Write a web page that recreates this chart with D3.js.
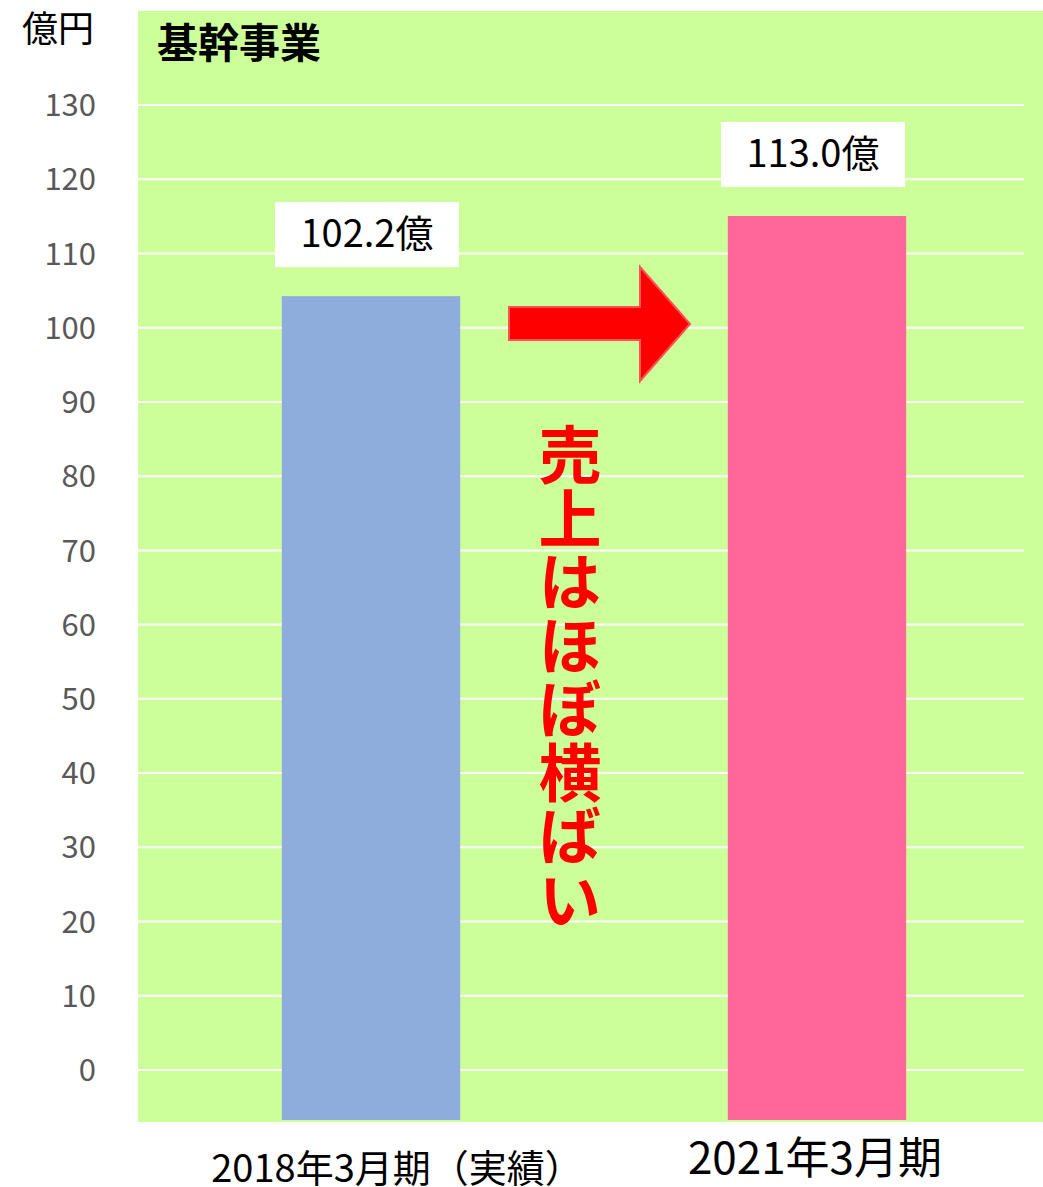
<!DOCTYPE html>
<html><head><meta charset="utf-8">
<script src="https://cdn.jsdelivr.net/npm/d3@7"></script>
<style>
html,body{margin:0;padding:0;background:#fff;}
svg{display:block;font-family:"Noto Sans CJK JP","Noto Sans",sans-serif;}
</style></head>
<body>
<svg id="chart" width="1043" height="1187"></svg>
<script>
const categories = ["2018年3月期（実績）", "2021年3月期"];
const values = [102.2, 113.0];
const valueLabels = ["102.2億", "113.0億"];
const barColors = ["#8EACDC", "#FF6699"];
const tickValues = [0,10,20,30,40,50,60,70,80,90,100,110,120,130];
const unitLabel = "億円";
const title = "基幹事業";
const annotation = "売上はほぼ横ばい";
const BAR_OFFSET = 2.05; // bars in the original sit slightly above the axis grid

const svg = d3.select("#chart");
const plot = {left:138, right:1043, top:11, bottom:1122};

svg.append("rect").attr("x",plot.left).attr("y",plot.top)
  .attr("width",plot.right-plot.left).attr("height",plot.bottom-plot.top)
  .attr("fill","#CCFF99");

const y = d3.scaleLinear().domain([0,130]).range([1070,105]);
const x = d3.scaleBand().domain(categories).range([148,1040]).paddingInner(0.6).paddingOuter(0.3);

// gridlines
svg.append("g").selectAll("line").data(tickValues).join("line")
  .attr("x1",plot.left).attr("x2",1024)
  .attr("y1",d=>y(d)).attr("y2",d=>y(d))
  .attr("stroke","#fff").attr("stroke-width",2);

// tick labels
svg.append("g").selectAll("text").data(tickValues).join("text")
  .attr("x",96).attr("y",d=>y(d)).attr("dy","0.36em")
  .attr("text-anchor","end").attr("fill","#595959")
  .attr("font-size",31).text(d=>d);

svg.append("text").attr("x",22).attr("y",42).attr("font-size",36).attr("fill","#000").text(unitLabel);
svg.append("text").attr("x",157).attr("y",58).attr("font-size",41).attr("font-weight","bold").attr("fill","#000").text(title);

// bars
const barBottom = 1120;
svg.append("g").selectAll("rect").data(values).join("rect")
  .attr("x",(d,i)=>x(categories[i])).attr("width",x.bandwidth())
  .attr("y",d=>y(d+BAR_OFFSET)).attr("height",d=>barBottom-y(d+BAR_OFFSET))
  .attr("fill",(d,i)=>barColors[i]);

// value label boxes
const boxW = 184, boxH = 65, gap = 29;
const lbl = svg.append("g").selectAll("g").data(values).join("g")
  .attr("transform",(d,i)=>`translate(${x(categories[i])+x.bandwidth()/2-4},${y(d+BAR_OFFSET)-gap-boxH})`);
lbl.append("rect").attr("x",-boxW/2).attr("y",0).attr("width",boxW).attr("height",boxH).attr("fill","#fff");
lbl.append("text").attr("x",0).attr("y",45).attr("text-anchor","middle").attr("font-size",38).attr("fill","#000")
  .text((d,i)=>valueLabels[i]);

// x labels
const xlabelSizes = [38, 44];
const xlabelY = [1182, 1174];
const xlabelShift = [26, -2];
svg.append("g").selectAll("text").data(categories).join("text")
  .attr("x",(d,i)=>x(d)+x.bandwidth()/2+xlabelShift[i]).attr("y",(d,i)=>xlabelY[i])
  .attr("text-anchor","middle").attr("font-size",(d,i)=>xlabelSizes[i]).attr("fill","#000").text(d=>d);

// arrow
const ax0=509, ax1=690, shaftTop=307, shaftBot=340, headX=640, headTop=267, headBot=381, tipY=324;
svg.append("path")
  .attr("d",`M${ax0},${shaftTop}L${headX},${shaftTop}L${headX},${headTop}L${ax1},${tipY}L${headX},${headBot}L${headX},${shaftBot}L${ax0},${shaftBot}Z`)
  .attr("fill","#FF0000").attr("stroke","#FF5050").attr("stroke-width",2);

// vertical annotation
svg.append("text")
  .attr("x",570).attr("y",423)
  .attr("writing-mode","vertical-rl")
  .style("writing-mode","vertical-rl")
  .attr("letter-spacing",0.5)
  .attr("font-size",63).attr("font-weight","bold")
  .attr("fill","#FF0000").text(annotation);
</script>
</body></html>
